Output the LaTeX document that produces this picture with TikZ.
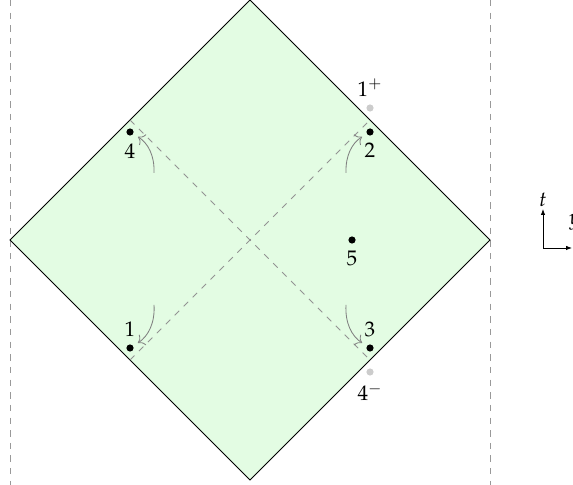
\documentclass[tikz,border=0pt]{standalone}
\usepackage{mathpazo}
\usetikzlibrary{arrows.meta, positioning}
\definecolor{patchgreen}{HTML}{E3FCE3}

\begin{document}
\begin{tikzpicture}[
  dot/.style={circle, fill=black, inner sep=0pt, minimum size=3.4pt},
  ghost/.style={dot, fill=black!20},
  flow/.style={-{To[length=1mm]}, gray, shorten >=2.5pt},
  lightray/.style={gray!85, dashed}
]
\useasboundingbox (-4.167,-4.083) rectangle (5.383,4);
% horizon lines
\coordinate (Ltop) at (-4,4);
\coordinate (Lbot) at (-4,-4.083);
\coordinate (Rtop) at (4,4);
\coordinate (Rbot) at (4,-4.083);
\draw[gray!80, dashed] (Ltop) -- (Lbot);
\draw[gray!80, dashed] (Rtop) -- (Rbot);
% diamond
\coordinate (N) at (0,4);
\coordinate (E) at (4,0);
\coordinate (S) at (0,-4);
\coordinate (W) at (-4,0);
\draw[fill=patchgreen] (N) -- (E) -- (S) -- (W) -- cycle;
\coordinate (nw) at (-2,2);
\coordinate (ne) at (2,2);
\coordinate (sw) at (-2,-2);
\coordinate (se) at (2,-2);
\draw[lightray] (nw) -- (se);
\draw[lightray] (sw) -- (ne);
% points
\node[dot, label=above:$1$] (p1) at (-2,-1.8) {};
\node[dot, label=below:$2$] (p2) at (2,1.8) {};
\node[dot, label=above:$3$] (p3) at (2,-1.8) {};
\node[dot, label=below:$4$] (p4) at (-2,1.8) {};
\node[dot, label=below:$5$] (p5) at (1.7,0) {};
\node[ghost, label=above:$1^+$] (p1p) at (2,2.2) {};
\node[ghost, label=below:$4^-$] (p4m) at (2,-2.2) {};
% flows
\coordinate (f1) at (-1.6,-1.08);
\coordinate (f2) at (1.6,1.12);
\coordinate (f3) at (1.6,-1.08);
\coordinate (f4) at (-1.6,1.12);
\draw[flow] (f1) to[bend left=30] (p1);
\draw[flow] (f2) to[bend left=30] (p2);
\draw[flow] (f3) to[bend right=30] (p3);
\draw[flow] (f4) to[bend right=30] (p4);
% axes
\coordinate (o) at (4.883,-0.133);
\coordinate (tend) at (4.883,0.517);
\coordinate (yend) at (5.367,-0.133);
\draw[-{Latex[length=1mm]}] (o) -- (tend);
\draw[-{Latex[length=1mm]}] (o) -- (yend);
\node[anchor=base, inner sep=0pt] (tlab) at (4.883,0.56) {$t$};
\node[anchor=base west, inner sep=0pt] (ylab) at (5.31,0.25) {$y$};
\end{tikzpicture}
\end{document}
